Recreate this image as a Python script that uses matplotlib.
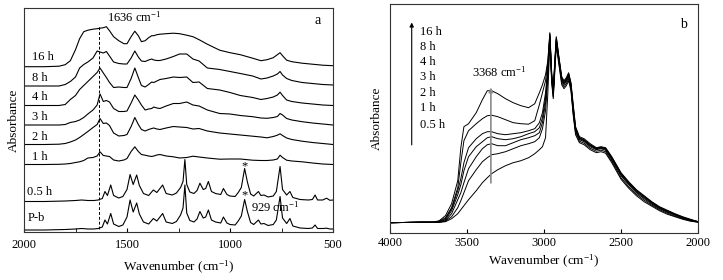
import numpy as np
import matplotlib
matplotlib.use("Agg")
import matplotlib.pyplot as plt

plt.rcParams['font.family'] = ['Liberation Serif', 'DejaVu Serif']
plt.rcParams['mathtext.fontset'] = 'custom'
plt.rcParams['mathtext.rm'] = 'Liberation Serif'
plt.rcParams['mathtext.it'] = 'Liberation Serif:italic'

# ---------------- panel a: stacked spectra ----------------
wn_a = [2000, 1900, 1830, 1800, 1775, 1750, 1730, 1710, 1690, 1665,
        1645, 1631, 1615, 1600, 1585, 1565, 1540, 1515, 1500, 1480,
        1462, 1445, 1430, 1412, 1395, 1380, 1370, 1355, 1340, 1310,
        1275, 1245, 1210, 1180, 1150, 1110, 1050, 1000, 950, 890,
        850, 820, 790, 770, 757, 745, 725, 700, 650, 600,
        550, 500]
abs_16h = [0, 0, 0.5, 2, 6, 17, 28, 35, 36.5, 37.5,
           38, 38.5, 39, 40, 36, 30, 26, 23, 23, 30,
           35.5, 31, 25, 26, 29, 31, 31, 32, 32.5, 33,
           33.5, 33, 31.5, 30, 27, 22.5, 16.5, 14, 12, 8.5,
           6, 7, 9, 12, 14, 11, 6.5, 5, 3.5, 2.5,
           1.5, 1]
abs_8h = [0, 0, 0, 1.5, 4.5, 9, 18, 21.5, 24, 28,
          35, 34, 33, 34.5, 30, 24, 22.5, 22, 22, 28,
          35, 29, 25, 24.5, 26, 27, 26, 25.5, 25.5, 27,
          29.5, 32, 32, 27, 25, 18, 16.5, 14.5, 12.5, 10,
          7, 8, 10, 12, 14.5, 11, 7.5, 5.5, 3.5, 2.5,
          1.5, 1]
abs_4h = [0, 0, 0, 1, 6, 10, 16, 20, 24, 29,
          33, 37.5, 32.5, 28, 23, 18, 18.5, 18, 18, 27,
          37.5, 28, 20, 18.5, 21, 23.5, 23, 24.5, 26, 27,
          28.5, 28, 28.5, 23, 23.5, 17, 15.5, 13, 10, 8,
          6, 7, 8.5, 10.5, 13.3, 10, 5.5, 4, 2.5, 1.5,
          0.5, 0]
abs_3h = [0, 0, 0, 0.5, 2.5, 3.5, 5, 7.5, 11, 15,
          20, 31, 23.5, 24.5, 23, 16.5, 13.5, 13.5, 14, 22,
          30, 25, 20, 15, 16, 16.5, 18, 17, 16.5, 19,
          21.5, 21.5, 23, 20, 19, 15, 11.5, 11, 9.5, 8.3,
          7, 6.7, 7.5, 8.5, 11.5, 10, 6.5, 5, 3.3, 2,
          1, 0]
abs_2h = [0, 0, 0.3, 1, 2.5, 4.5, 7, 10, 13, 17,
          20, 26, 21, 21.5, 19, 11.5, 8.5, 9, 10, 18,
          27, 20, 15, 13.5, 15, 16, 16.5, 15.5, 15, 16.5,
          18, 17.5, 17, 15.5, 16, 13.5, 11.5, 10.5, 9.5, 8.3,
          7.5, 6.7, 8, 9.3, 10.7, 9, 6.5, 5, 3.3, 2,
          1, 0]
abs_1h = [0, 0, 0.2, 0.5, 1, 2, 2.7, 4, 6.5, 7,
          8.5, 12.7, 9, 8.5, 8, 4.5, 3.5, 4.5, 6, 13,
          17.7, 13, 10, 9.3, 8.5, 8, 8.5, 9.5, 10, 8.5,
          7.7, 6.5, 7, 8.3, 7.5, 6.5, 5.3, 5.5, 5.5, 4.3,
          4, 4, 4.5, 5.5, 9.3, 7, 4.3, 3.5, 2.7, 1.5,
          0.5, 0]

wn_p = [2000, 1900, 1800, 1750, 1720, 1690, 1660, 1640, 1620, 1607,
        1595, 1579, 1565, 1540, 1520, 1500, 1485, 1470, 1453, 1440,
        1420, 1395, 1372, 1355, 1327, 1310, 1280, 1260, 1240, 1228,
        1219, 1210, 1195, 1175, 1160, 1146, 1130, 1118, 1105, 1090,
        1070, 1045, 1032, 1015, 1000, 975, 960, 945, 929, 915,
        900, 885, 862, 850, 835, 815, 790, 775, 757, 745,
        725, 709, 695, 660, 620, 600, 587, 575, 550, 531,
        515, 500]
abs_05h = [0, 0, 0.5, 1, 1.5, 1, 1, 1.5, 3, 10,
           6, 16.5, 6, 3.5, 5, 12, 27, 17, 26.5, 16,
           8, 6, 11.5, 9, 16.5, 8, 6.5, 8.5, 14, 20,
           42, 17, 9.5, 8, 11, 18.3, 12, 13, 20, 10,
           8, 7, 13, 7, 5.5, 5, 9, 14, 33, 19,
           7.5, 5.5, 10, 6, 6.5, 4.5, 5.5, 10, 35, 12,
           6.5, 10, 4, 2, 1.5, 2, 6.5, 1.5, 1.5, 3.3,
           1.2, 1.5]
abs_pb = [0, 0, 0.5, 1, 1.5, 1, 1, 1.5, 3, 10,
          6, 16.5, 6, 3.5, 5, 13, 30, 18, 27, 16,
          8, 6, 11.5, 9, 16.5, 8, 6.5, 8.5, 15, 22,
          45, 17, 9.5, 8, 11, 18.5, 12, 13, 20, 10,
          8, 7, 13, 7, 5.5, 5, 9, 14, 30.5, 18,
          7.5, 5.5, 10, 6, 6.5, 4.5, 5.5, 10, 33.5, 12,
          6.5, 11.5, 4, 2, 1.5, 2, 5, 1.5, 1.5, 1.8,
          1, 1]

labels_a = ["16 h", "8 h", "4 h", "3 h", "2 h", "1 h", "0.5 h", "P-b"]
offsets_a = [165.3, 146, 126.5, 107, 87.5, 67.5, 30.5, 2]

# ---------------- panel b: overlaid spectra ----------------
wn_b = [4000, 3800, 3720, 3680, 3640, 3600, 3560, 3540, 3520, 3490,
        3440, 3400, 3368, 3340, 3300, 3250, 3200, 3150, 3100, 3060,
        3030, 3010, 2990, 2975, 2962, 2950, 2940, 2930, 2920, 2905,
        2885, 2870, 2855, 2840, 2825, 2810, 2795, 2770, 2740, 2700,
        2660, 2630, 2600, 2560, 2500, 2450, 2400, 2350, 2300, 2250,
        2200, 2150, 2100, 2050, 2000]
b_16h = [10, 10.5, 10.5, 12, 17, 29, 52, 85, 106, 109,
         120, 133, 142, 142, 139, 134, 130, 127, 125, 129,
         140, 148, 158, 172, 200, 160, 143, 172, 196, 178,
         156, 152, 155, 160, 150, 128, 106, 96, 94, 89,
         85, 86, 85, 76, 60, 51, 43, 37, 31, 26,
         22.5, 19, 16, 13.5, 11]
b_8h = [10, 10.5, 10.5, 11.5, 15, 25, 45, 70, 92, 102,
        109, 114, 117, 117.5, 116, 113, 110, 109, 108.5, 112,
        128, 140, 152, 170, 199, 158, 141, 170, 195, 177,
        155, 151, 154, 159, 149, 126, 105, 95, 93, 88,
        84.5, 85.5, 84.5, 75.5, 59.5, 50.5, 42.5, 36.5, 30.5, 25.5,
        22, 18.5, 15.5, 13, 11]
b_4h = [10, 10.5, 10.5, 11, 14, 24, 42, 54, 70, 85,
        94, 99, 101, 101, 99, 98, 99, 100, 102, 104,
        110, 120, 140, 165, 198, 156, 140, 168, 194, 176,
        154, 150, 153, 158, 148, 124, 104, 94.5, 92.5, 87.5,
        84, 85, 84, 75, 59, 50, 42, 36, 30, 25,
        21.5, 18.5, 15.5, 13, 11]
b_3h = [10, 10.5, 10.5, 10.5, 13, 22, 38, 48, 62, 76,
        86, 91, 95, 96, 94, 93, 94, 96, 99, 101,
        105, 115, 135, 162, 197, 155, 139, 167, 193, 175,
        153, 149, 152, 157, 147, 122, 103, 94, 92, 87,
        83.5, 84.5, 83.5, 74, 58, 49, 41, 35, 29.5, 24.5,
        21, 18, 15, 12.5, 11]
b_2h = [10, 10.5, 10.5, 10.5, 12, 19, 33, 40, 50, 64,
        76, 84, 88, 89, 87, 87, 90, 93, 95, 97,
        100, 110, 130, 160, 196, 154, 138, 166, 192, 174,
        152, 148, 151, 156, 146, 121, 102, 93, 91, 86,
        83, 84, 82.5, 73, 57, 48, 40, 34, 28.5, 24,
        20.5, 17.5, 14.5, 12.5, 11]
b_1h = [10, 10.5, 10.5, 10.5, 11.5, 16, 25, 32, 40, 52,
        63, 71, 75, 78, 79, 81, 84, 87, 89, 91,
        95, 104, 122, 155, 194, 152, 136, 164, 190, 172,
        150, 146, 149, 154, 144, 119, 100, 91.5, 89.5, 84.5,
        81.5, 82.5, 81, 71.5, 55, 46, 38.5, 32.5, 27.5, 23,
        19.5, 16.5, 14, 12, 10.5]
b_05h = [10, 10.5, 10.5, 10.5, 11, 14, 19, 23, 27, 33,
         42, 50, 55, 59, 63, 67, 70, 72, 75, 79,
         83, 86, 95, 140, 190, 150, 134, 160, 187, 170,
         148, 144, 147, 152, 142, 117, 98, 90, 88, 83,
         80, 81, 79.5, 70, 53.5, 44.5, 37, 31, 26.5, 22,
         18.5, 16, 13.5, 11.5, 10.5]
labels_b = ["16 h", "8 h", "4 h", "3 h", "2 h", "1 h", "0.5 h"]

fig = plt.figure(figsize=(7.23, 2.8), dpi=100)
ax1 = fig.add_axes([24/723, 48/280, 309/723, 224/280])
ax2 = fig.add_axes([390/723, 47.3/280, 308/723, 228.7/280])

# ---- a ----
curves_a = [abs_16h, abs_8h, abs_4h, abs_3h, abs_2h, abs_1h]
for h, off in zip(curves_a, offsets_a[:6]):
    ax1.plot(wn_a, np.array(h) + offsets_a[offsets_a.index(off)], color='black', lw=0.8)
ax1.plot(wn_p, np.array(abs_05h) + offsets_a[6], color='black', lw=0.8)
ax1.plot(wn_p, np.array(abs_pb) + offsets_a[7], color='black', lw=0.8)

lab_y = [175, 154, 135, 115, 95, 75, 40.3, 14]
lab_x = [1961, 1961, 1961, 1961, 1961, 1961, 1985, 1981]
for txt, x, y in zip(labels_a, lab_x, lab_y):
    ax1.text(x, y, txt, fontsize=9, va='center', ha='left')

ax1.plot([1636, 1636], [3, 206], color='black', lw=0.7, ls=(0, (3, 2)))
ax1.text(1597, 215, "1636 cm$^{-1}$", fontsize=9, va='center', ha='left')
ax1.text(929, 66, "*", fontsize=9, ha='center', va='center')
ax1.text(929, 37, "*", fontsize=9, ha='center', va='center')
ax1.text(898, 25, "929 cm$^{-1}$", fontsize=9, va='center', ha='left')
ax1.text(573, 212, "a", fontsize=10, va='center', ha='center')

ax1.set_xlim(2000, 500)
ax1.set_ylim(0, 224)
ax1.set_xticks([2000, 1500, 1000, 500])
ax1.set_xticks([1750, 1250, 750], minor=True)
ax1.set_yticks([])
ax1.tick_params(axis='x', which='both', direction='in', length=3, labelsize=9, pad=5)
ax1.set_xlabel("Wavenumber (cm$^{-1}$)", fontsize=9.5, labelpad=6)
ax1.set_ylabel("Absorbance", fontsize=9.5, labelpad=3)

# ---- b ----
for h in [b_16h, b_8h, b_4h, b_3h, b_2h, b_1h, b_05h]:
    ax2.plot(wn_b, h, color='black', lw=0.7)

ax2.annotate('', xy=(3859, 213), xytext=(3859, 85),
             arrowprops=dict(arrowstyle='-|>', color='black', lw=0.8, mutation_scale=6))
lab_yb = [201, 186, 171, 155.5, 140, 124.5, 108]
for txt, y in zip(labels_b, lab_yb):
    ax2.text(3805, y, txt, fontsize=9, va='center', ha='left')

ax2.annotate('', xy=(3345, 148), xytext=(3345, 47),
             arrowprops=dict(arrowstyle='-|>', color='#8a8a8a', lw=1.2, mutation_scale=6))
ax2.text(3469, 160, "3368 cm$^{-1}$", fontsize=9, va='center', ha='left')
ax2.text(2097, 208.7, "b", fontsize=10, va='center', ha='center')

ax2.set_xlim(4000, 2000)
ax2.set_ylim(0, 228.7)
ax2.set_xticks([4000, 3500, 3000, 2500, 2000])
ax2.set_yticks([])
ax2.tick_params(axis='x', direction='in', length=3, labelsize=9, pad=3)
ax2.set_xlabel("Wavenumber (cm$^{-1}$)", fontsize=9.5, labelpad=3)
ax2.set_ylabel("Absorbance", fontsize=9.5, labelpad=5)

for ax in (ax1, ax2):
    for s in ax.spines.values():
        s.set_linewidth(0.8)
        s.set_color('#333333')

plt.savefig("out.png", dpi=100)
